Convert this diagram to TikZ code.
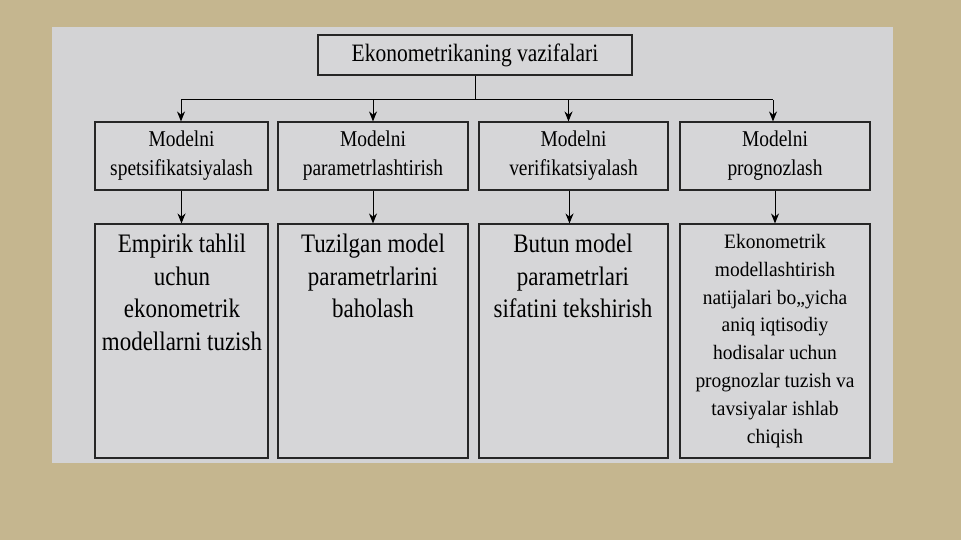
\documentclass[tikz,border=0pt]{standalone}
\usepackage{fontspec}
\setmainfont{Liberation Serif}
\newfontfamily\narrowserif[FakeStretch=0.86]{Liberation Serif}
\newfontfamily\slightserif[FakeStretch=0.95]{Liberation Serif}
\usetikzlibrary{arrows.meta}
\definecolor{bgtan}{RGB}{197,182,143}
\definecolor{panel}{RGB}{211,211,213}
\definecolor{boxfill}{RGB}{214,214,216}
\begin{document}
\begin{tikzpicture}[x=1pt,y=-1pt,
  box/.style={draw=black!85, line width=1.1pt, fill=boxfill, inner sep=0pt},
  arr/.style={-{Stealth[length=10pt,width=8pt]}, line width=1pt},
  line/.style={line width=1pt},
  toptext/.style={font=\narrowserif\fontsize{22.6}{29}\selectfont, align=center, inner sep=0pt},
  bigtext/.style={font=\narrowserif\fontsize{26.7}{32.5}\selectfont, align=center, inner sep=0pt, anchor=north},
  smalltext/.style={font=\slightserif\fontsize{20.5}{27.8}\selectfont, align=center, inner sep=0pt, anchor=north}
]
\useasboundingbox (0,0) rectangle (961,540);
\fill[bgtan] (0,0) rectangle (961,540);
\fill[panel] (52,27) rectangle (893,463);

% title
\node[box, minimum width=314pt, minimum height=40pt, font=\narrowserif\fontsize{25}{28}\selectfont] (title) at (475,55) {Ekonometrikaning vazifalari};

% first row
\node[box, toptext, minimum width=173pt, minimum height=68pt] (b1) at (181.5,156) {Modelni\\spetsifikatsiyalash};
\node[box, toptext, minimum width=190pt, minimum height=68pt] (b2) at (373,156) {Modelni\\parametrlashtirish};
\node[box, toptext, minimum width=189pt, minimum height=68pt] (b3) at (573.5,156) {Modelni\\verifikatsiyalash};
\node[box, toptext, minimum width=190pt, minimum height=68pt] (b4) at (775,156) {Modelni\\prognozlash};

% second row
\node[box, minimum width=173pt, minimum height=234pt] (c1) at (181.5,341) {};
\node[box, minimum width=190pt, minimum height=234pt] (c2) at (373,341) {};
\node[box, minimum width=189pt, minimum height=234pt] (c3) at (573.5,341) {};
\node[box, minimum width=190pt, minimum height=234pt] (c4) at (775,341) {};

\node[bigtext] (t1) at (182,234) {Empirik tahlil\\uchun\\ekonometrik\\modellarni tuzish};
\node[bigtext] (t2) at (373,234) {Tuzilgan model\\parametrlarini\\baholash};
\node[bigtext] (t3) at (573,234) {Butun model\\parametrlari\\sifatini tekshirish};
\node[smalltext] (t4) at (775,234) {Ekonometrik\\modellashtirish\\natijalari bo„yicha\\aniq iqtisodiy\\hodisalar uchun\\prognozlar tuzish va\\tavsiyalar ishlab\\chiqish};

% connectors
\coordinate (bus) at (475,100);
\coordinate (busL) at (181,100);
\coordinate (busR) at (773,100);
\draw[line] (title.south) -- (bus);
\draw[line] (busL) -- (busR);
\draw[arr] (busL) -- (b1.north -| busL);
\draw[arr] (b2.north |- bus) -- (b2.north);
\draw[arr] ([xshift=-5pt]b3.north |- bus) -- ([xshift=-5pt]b3.north);
\draw[arr] (busR) -- (b4.north -| busR);

\draw[arr] (b1.south) -- (c1.north);
\draw[arr] (b2.south) -- (c2.north);
\draw[arr] ([xshift=-4pt]b3.south) -- ([xshift=-4pt]c3.north);
\draw[arr] (b4.south) -- (c4.north);
\end{tikzpicture}
\end{document}
